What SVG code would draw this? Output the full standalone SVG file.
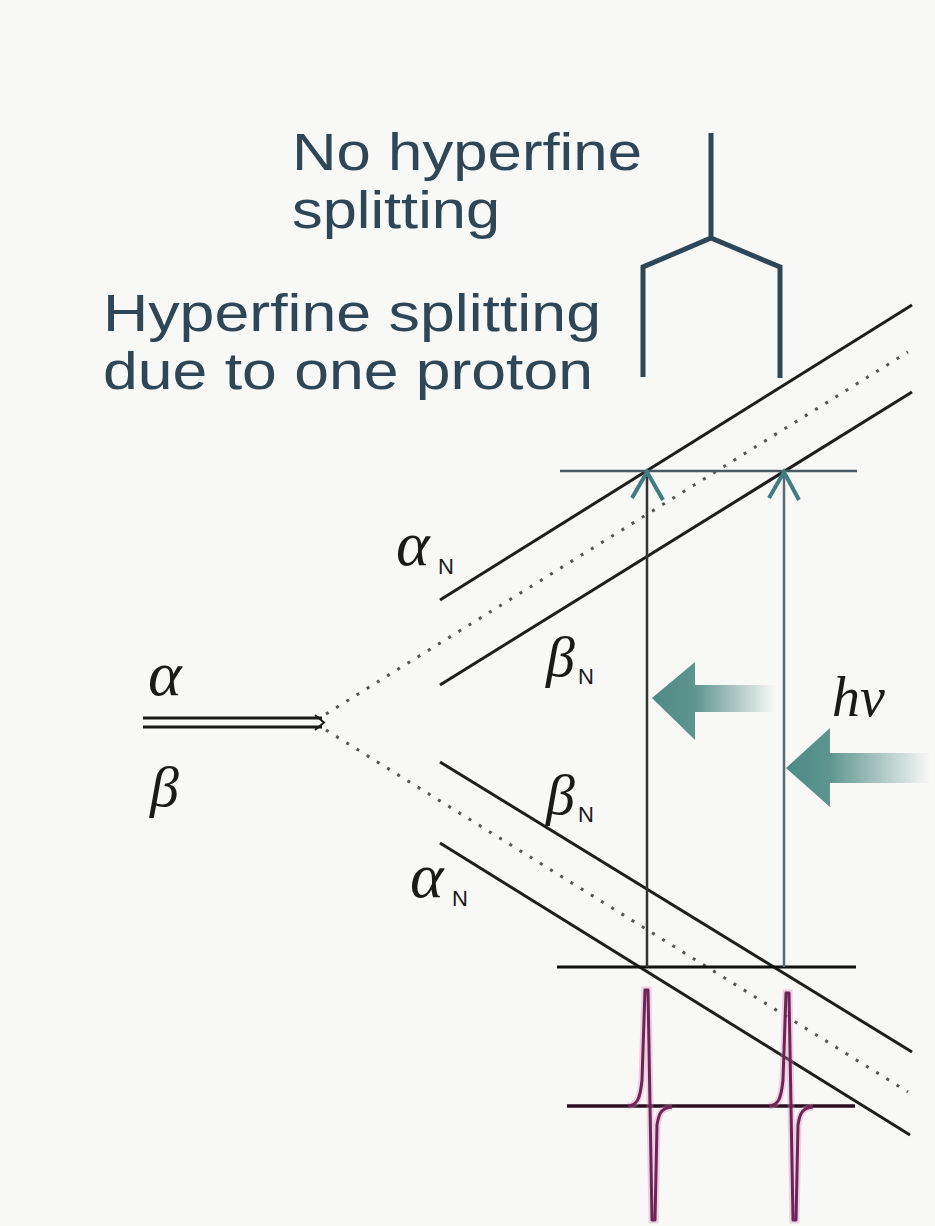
<svg xmlns="http://www.w3.org/2000/svg" width="935" height="1226" viewBox="0 0 935 1226">
<defs>
<style>
.title{font-family:"Liberation Sans",Arial,sans-serif;font-size:51px;fill:#2f4656}
.gk{font-family:"Liberation Serif","Times New Roman",serif;font-style:italic;fill:#1a1a1a}
.sub{font-family:"Liberation Sans",Arial,sans-serif;font-size:22px;fill:#1a1a1a}
.lvl{stroke:#1e1e1e;stroke-width:3;fill:none}
.dot{stroke:#555;stroke-width:3;stroke-dasharray:3 9;fill:none}
.stick{stroke:#2f4656;stroke-width:5;fill:none}
.spec{stroke:#6e2456;stroke-width:3;fill:none;stroke-linejoin:round}
.glow{stroke:#d88ac0;stroke-width:7;fill:none;opacity:0.35}
</style>
<linearGradient id="fadeL" x1="0" y1="0" x2="1" y2="0">
<stop offset="0" stop-color="#4d8a84"/>
<stop offset="0.35" stop-color="#5f958f"/>
<stop offset="1" stop-color="#5f958f" stop-opacity="0"/>
</linearGradient>
<linearGradient id="fadeR" x1="0" y1="0" x2="1" y2="0">
<stop offset="0" stop-color="#4d8a84"/>
<stop offset="0.3" stop-color="#5f958f"/>
<stop offset="1" stop-color="#5f958f" stop-opacity="0"/>
</linearGradient>
</defs>
<rect width="935" height="1226" fill="#f8f8f6"/>

<g id="label-no-splitting">
<text class="title" x="292" y="170" textLength="350" lengthAdjust="spacingAndGlyphs">No hyperfine</text>
<text class="title" x="292" y="228" textLength="208" lengthAdjust="spacingAndGlyphs">splitting</text>
</g>
<g id="label-splitting">
<text class="title" x="103" y="331" textLength="498" lengthAdjust="spacingAndGlyphs">Hyperfine splitting</text>
<text class="title" x="103" y="389" textLength="490" lengthAdjust="spacingAndGlyphs">due to one proton</text>
</g>

<g id="stick-diagram">
<path class="stick" d="M711,133 V238 M643,377 V267 L711,238 L780,267 V378"/>
</g>

<g id="electron-level">
<line x1="143" y1="718" x2="322" y2="718" stroke="#1a1a1a" stroke-width="3"/>
<line x1="143" y1="727" x2="322" y2="727" stroke="#1a1a1a" stroke-width="3"/>
<path d="M315,715 L324,722.5 L315,730" stroke="#1a1a1a" stroke-width="2" fill="none"/>
<text class="gk" x="148" y="695" font-size="64">α</text>
<text class="gk" x="150" y="806" font-size="58">β</text>
</g>

<g id="upper-band">
<line class="lvl" x1="440" y1="600" x2="912" y2="305"/>
<line class="lvl" x1="440" y1="685" x2="912" y2="392"/>
<text class="gk" x="396" y="565" font-size="64">α</text><text class="sub" x="438" y="574">N</text>
<text class="gk" x="546" y="676" font-size="58">β</text><text class="sub" x="578" y="684">N</text>
</g>

<g id="lower-band">
<line class="lvl" x1="440" y1="762" x2="912" y2="1052"/>
<line class="lvl" x1="440" y1="843" x2="910" y2="1135"/>
<text class="gk" x="546" y="814" font-size="58">β</text><text class="sub" x="578" y="822">N</text>
<text class="gk" x="410" y="897" font-size="64">α</text><text class="sub" x="452" y="906">N</text>
</g>

<g id="connectors">
<line class="dot" x1="326" y1="714" x2="908" y2="352"/>
<line class="dot" x1="326" y1="730" x2="908" y2="1092"/>
<line x1="560" y1="471" x2="857" y2="471" stroke="#4a5a66" stroke-width="2.5"/>
<line x1="557" y1="967" x2="856" y2="967" stroke="#111" stroke-width="3"/>
<line x1="647" y1="474" x2="647" y2="967" stroke="#333" stroke-width="2.5"/>
<line x1="784" y1="474" x2="784" y2="967" stroke="#5a6a74" stroke-width="2.5"/>
<path d="M632,498 L647,472 L663,500 M769,498 L784,472 L799,500" stroke="#3f7d80" stroke-width="4" fill="none"/>
</g>

<g id="hv-arrows">
<path d="M652,698 L695,662 L695,685 L775,685 L775,712 L695,712 L695,740 Z" fill="url(#fadeL)"/>
<path d="M786,768 L830,728 L830,753 L930,753 L930,783 L830,783 L830,807 Z" fill="url(#fadeR)"/>
<text class="gk" x="832" y="716" font-size="56" fill="#333">hν</text>
</g>

<g id="spectrum">
<line x1="567" y1="1106" x2="855" y2="1106" stroke="#2a0f20" stroke-width="3.5"/>
<path class="glow" d="M628,1106 C637,1105 640,1100 642,1080 L645,990 L648,990 L652,1220 L655,1220 L657,1125 C659,1112 662,1108 672,1107"/>
<path class="spec" d="M628,1106 C637,1105 640,1100 642,1080 L645,990 L648,990 L652,1220 L655,1220 L657,1125 C659,1112 662,1108 672,1107"/>
<path class="glow" d="M769,1106 C778,1105 781,1100 783,1080 L786,993 L789,993 L793,1220 L796,1220 L798,1125 C800,1112 803,1108 813,1107"/>
<path class="spec" d="M769,1106 C778,1105 781,1100 783,1080 L786,993 L789,993 L793,1220 L796,1220 L798,1125 C800,1112 803,1108 813,1107"/>
</g>
</svg>
